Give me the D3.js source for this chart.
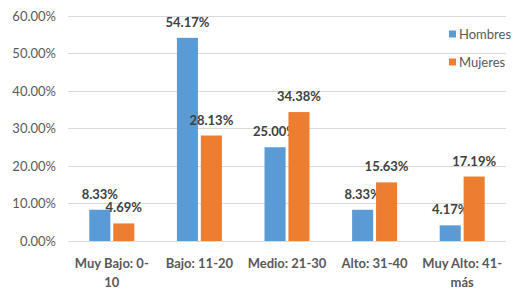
<!DOCTYPE html>
<html><head><meta charset="utf-8">
<script src="https://cdn.jsdelivr.net/npm/d3@7"></script>
<style>body{margin:0;background:#fff;} svg{display:block;}</style>
</head><body>
<svg id="c" width="521" height="293"></svg>
<script>
const categories = [["Muy Bajo: 0-","10"],["Bajo: 11-20"],["Medio: 21-30"],["Alto: 31-40"],["Muy Alto: 41-","más"]];
const seriesNames = ["Hombres","Mujeres"];
const hombres = [8.33, 54.17, 25.00, 8.33, 4.17];
const mujeres = [4.69, 28.13, 34.38, 15.63, 17.19];
const yTicks = [0,10,20,30,40,50,60];
const colors = ["#5B9BD5","#ED7D31"];

const svg = d3.select("#c");
const font = "Lato, 'Liberation Sans', sans-serif";
const x = d3.scaleBand().domain(d3.range(categories.length)).range([68,506]);
const y = d3.scaleLinear().domain([0,60]).range([241,16]);
const xs = d3.scaleBand().domain([0,1]).range([0, 45]).paddingInner(0.12);

svg.append("g").selectAll("line").data(yTicks).join("line")
  .attr("x1",68).attr("x2",506).attr("y1",d=>y(d)).attr("y2",d=>y(d))
  .attr("stroke","#D9D9D9").attr("stroke-width",1).attr("shape-rendering","crispEdges");

const yAxis = d3.axisLeft(y).tickValues(yTicks).tickFormat(d=>d.toFixed(2)+"%").tickSize(0).tickPadding(12);
const ga = svg.append("g").attr("transform","translate(68,0)").call(yAxis);
ga.select(".domain").remove();
ga.selectAll("text").attr("fill","#595959").attr("font-size","13px").attr("font-family",font);

const series = [hombres, mujeres];
series.forEach((vals,si)=>{
  const g = svg.append("g");
  g.selectAll("rect").data(vals).join("rect")
    .attr("x",(d,i)=>x(i)+x.bandwidth()/2-22.5+xs(si))
    .attr("width",xs.bandwidth())
    .attr("y",d=>y(d)).attr("height",d=>y(0)-y(d))
    .attr("fill",colors[si]);
  g.selectAll("text").data(vals).join("text")
    .attr("x",(d,i)=>x(i)+x.bandwidth()/2-22.5+xs(si)+xs.bandwidth()/2)
    .attr("y",d=>y(d)-11)
    .attr("text-anchor","middle").attr("font-size","13px").attr("font-weight","bold")
    .attr("font-family",font).attr("fill","#404040")
    .text(d=>d.toFixed(2)+"%");
});

svg.append("g").selectAll("text").data(categories).join("text")
  .attr("x",(d,i)=>x(i)+x.bandwidth()/2).attr("y",268)
  .attr("text-anchor","middle").attr("font-size","13px").attr("font-weight","bold")
  .attr("font-family",font).attr("fill","#595959")
  .each(function(d){
    const t=d3.select(this);
    d.forEach((line,j)=>t.append("tspan").attr("x",t.attr("x")).attr("dy",j?19:0).text(line));
  });

const lg = svg.append("g").selectAll("g").data(seriesNames).join("g")
  .attr("transform",(d,i)=>`translate(449,${34+i*28})`);
lg.append("rect").attr("x",0).attr("y",-3.5).attr("width",7).attr("height",7).attr("fill",(d,i)=>colors[i]);
lg.append("text").attr("x",10).attr("y",4.5).attr("font-size","13px").attr("font-family",font)
  .attr("fill","#595959").text(d=>d);
</script>
</body></html>
